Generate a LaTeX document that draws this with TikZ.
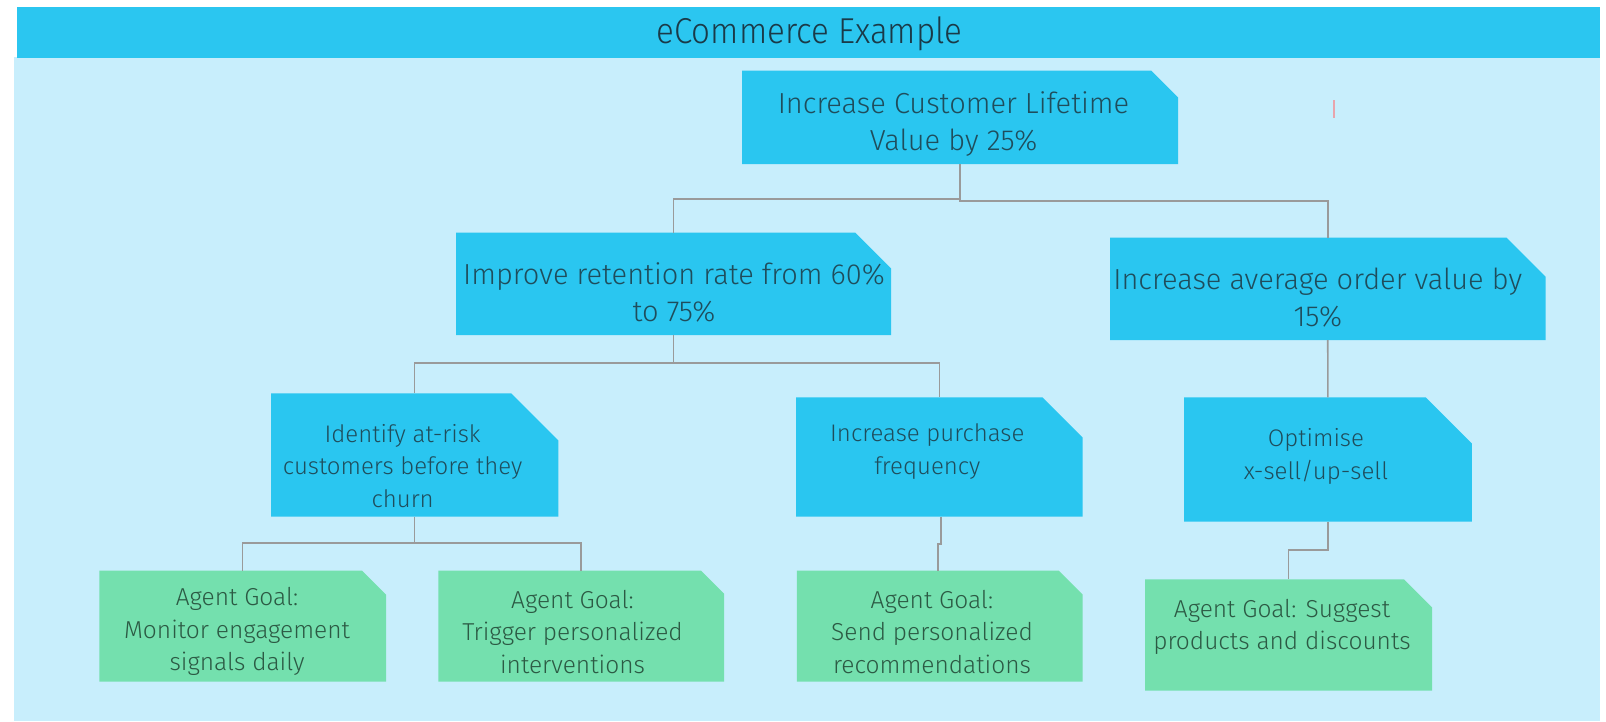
\documentclass[tikz,border=0pt]{standalone}
\usepackage{fontspec}
\setmainfont{Fira Sans Light}
\newfontfamily\titlefont{Fira Sans Light}[FakeStretch=0.92]
\definecolor{titlebar}{HTML}{2BC6F0}
\definecolor{bgc}{HTML}{C8EEFC}
\definecolor{bluebox}{HTML}{2AC6F0}
\definecolor{greenbox}{HTML}{74E0AE}
\definecolor{txtb}{HTML}{1F4D5C}
\definecolor{txtg}{HTML}{2C5A44}
\definecolor{txtt}{HTML}{1A3A48}
\definecolor{conncol}{HTML}{9A9A9A}
\definecolor{markcol}{HTML}{E8A4AC}
\tikzset{
  boxbase/.style={anchor=north west, inner sep=0pt, outer sep=0pt, draw=none},
  bluenode/.style={boxbase, path picture={\fill[bluebox] (path picture bounding box.north west) -- ([xshift=-#1pt]path picture bounding box.north east) -- ([yshift=-#1pt]path picture bounding box.north east) -- (path picture bounding box.south east) -- (path picture bounding box.south west) -- cycle;}},
  greennode/.style={boxbase, path picture={\fill[greenbox] (path picture bounding box.north west) -- ([xshift=-#1pt]path picture bounding box.north east) -- ([yshift=-#1pt]path picture bounding box.north east) -- (path picture bounding box.south east) -- (path picture bounding box.south west) -- cycle;}},
  tbig/.style={font=\fontsize{29}{37}\selectfont, text=txtb, align=center},
  tmid/.style={font=\fontsize{24}{32.5}\selectfont, text=txtb, align=center},
  tgreen/.style={font=\fontsize{24.5}{32.5}\selectfont, text=txtg, align=center},
  conn/.style={draw=conncol, line width=1.6pt},
}
\begin{document}
\begin{tikzpicture}[x=1pt, y=-1pt]
\useasboundingbox (0,0) rectangle (1606,721);
\fill[white] (0,0) rectangle (1606,721);
% background and title bar
\fill[bgc] (14,57) rectangle (1600,721);
\node[boxbase, fill=titlebar, minimum width=1583pt, minimum height=50.5pt,
      label={[font=\titlefont\fontsize{36}{40}\selectfont, text=txtt, xshift=1pt, yshift=-2pt]center:{eCommerce Example}}] (title) at (17,7) {};
% level 1
\node[bluenode=27, minimum width=436pt, minimum height=93.5pt,
      label={[tbig, xshift=-6.5pt, yshift=-6.5pt]center:{Increase Customer Lifetime\\Value by 25\%}}] (t) at (742,70.5) {};
% level 2
\node[bluenode=36, minimum width=435pt, minimum height=102.5pt,
      label={[tbig, xshift=0.5pt, yshift=-8.6pt]center:{Improve retention rate from 60\%\\to 75\%}}] (l2a) at (456,232.5) {};
\node[bluenode=39, minimum width=435.5pt, minimum height=102.5pt,
      label={[tbig, xshift=-10pt, yshift=-8.7pt]center:{Increase average order value by\\15\%}}] (l2b) at (1110,237.6) {};
% level 3
\node[bluenode=47, minimum width=287.3pt, minimum height=123.4pt,
      label={[tmid, xshift=-12pt, yshift=-10.7pt]center:{Identify at-risk\\customers before they\\churn}}] (l3a) at (271,393.3) {};
\node[bluenode=40, minimum width=286.6pt, minimum height=119.3pt,
      label={[tmid, xshift=-12pt, yshift=5.5pt]center:{Increase purchase\\frequency}}] (l3b) at (796,397.4) {};
\node[bluenode=46, minimum width=287.8pt, minimum height=124.3pt,
      label={[tmid, xshift=-12pt, yshift=3pt]center:{Optimise\\x-sell/up-sell}}] (l3c) at (1184,397.4) {};
% agent goals
\node[greennode=24, minimum width=286.7pt, minimum height=111.2pt,
      label={[tgreen, xshift=-5.6pt, yshift=-5.5pt]center:{Agent Goal:\\Monitor engagement\\signals daily}}] (g1) at (99.3,570.5) {};
\node[greennode=23, minimum width=285.6pt, minimum height=111.2pt,
      label={[tgreen, xshift=-8.7pt, yshift=-5.5pt]center:{Agent Goal:\\Trigger personalized\\interventions}}] (g2) at (438.4,570.5) {};
\node[greennode=24, minimum width=285.8pt, minimum height=111.2pt,
      label={[tgreen, xshift=-7.7pt, yshift=-5.5pt]center:{Agent Goal:\\Send personalized\\recommendations}}] (g3) at (796.8,570.5) {};
\node[greennode=28, minimum width=287pt, minimum height=111.4pt,
      label={[tgreen, xshift=-6.5pt, yshift=8pt]center:{Agent Goal: Suggest\\products and discounts}}] (g4) at (1145,579.3) {};
% connectors
\draw[conn] (t.south) |- (l2a.north |- 0,199) -- (l2a.north);
\draw[conn] (t.south |- 0,199) -- (t.south |- 0,201) -| (l2b.north);
\draw[conn] (l2a.south) |- (l3a.north |- 0,363) -- (l3a.north);
\draw[conn] (l2a.south |- 0,363) -| (l3b.north);
\draw[conn] (l2b.south) -- (l3c.north);
\draw[conn] (l3a.south) |- (g1.north |- 0,542.7) -- (g1.north);
\draw[conn] (l3a.south |- 0,542.7) -| (g2.north);
\coordinate (j3) at (938,544);
\draw[conn] ([xshift=1.4pt]l3b.south) |- (j3) -- (j3 |- g3.north);
\draw[conn] (l3c.south) |- (g4.north |- 0,550) -- (g4.north);
% small mark
\draw[markcol, line width=1.5pt] (1334,100) -- (1334,118);
\end{tikzpicture}
\end{document}
